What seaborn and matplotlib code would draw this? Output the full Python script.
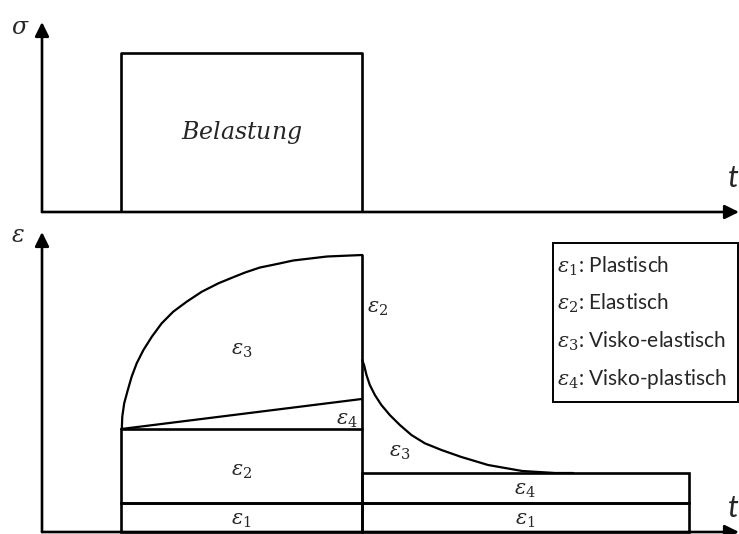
import matplotlib
matplotlib.use("Agg")
import matplotlib.pyplot as plt
from matplotlib.patches import Rectangle
import seaborn as sns

sns.set_style("white")
plt.rcParams['font.family'] = ['Lato', 'DejaVu Sans']
plt.rcParams['mathtext.fontset'] = 'dejavuserif'

# time markers (load on / off, end of recovery) and axis range
t_on, t_off, t_end, t_max = 3.3, 13.3, 26.9, 29.0
sigma_load, sigma_max = 15.9, 19.0
eps_max_axis = 30.0

# strain levels
eps_plastic = 2.9        # eps1
eps_elastic_top = 10.3   # eps1 + eps2
eps_vp_top = 13.3        # + eps4 at unloading
eps_peak = 27.7          # total strain at unloading
eps_after_elastic = 17.2 # after instantaneous elastic recovery
eps_residual = 5.9       # eps1 + eps4

# creep curve under load
creep_t = [3.32, 3.34, 3.42, 3.57, 3.73, 3.94, 4.22, 4.57, 4.98, 5.46, 6.02, 6.65,
           7.34, 8.03, 8.45, 9.07, 9.78, 10.45, 11.86, 13.32]
creep_eps = [10.3, 11.53, 12.87, 14.2, 15.53, 16.87, 18.2, 19.53, 20.87, 22.03, 23.03, 24.03,
             24.87, 25.55, 25.95, 26.45, 26.8, 27.15, 27.55, 27.7]

# recovery curve after unloading
recov_t = [13.32, 13.40, 13.50, 13.64, 13.85, 14.12, 14.47, 14.89, 15.37, 15.93, 16.62,
           17.45, 18.56, 19.98, 21.35, 22.10]
recov_eps = [17.2, 16.7, 15.7, 14.7, 13.7, 12.7, 11.7, 10.7, 9.7, 8.87, 8.2,
             7.5, 6.7, 6.1, 5.9, 5.9]

legend_items = ["$\\varepsilon_1$: Plastisch", "$\\varepsilon_2$: Elastisch",
                "$\\varepsilon_3$: Visko-elastisch", "$\\varepsilon_4$: Visko-plastisch"]

W, H = 739, 534
fig = plt.figure(figsize=(W / 100, H / 100), dpi=100)
ax1 = fig.add_axes([42 / W, (H - 212) / H, 697 / W, 190 / H])
ax2 = fig.add_axes([42 / W, 2 / H, 697 / W, 300 / H])

lw_box = 1.9
lw_curve = 1.6

ax1.set_xlim(0, t_max)
ax1.set_ylim(0, sigma_max)
ax2.set_xlim(0, t_max)
ax2.set_ylim(0, eps_max_axis)

arrow = dict(arrowstyle='-|>,head_length=0.85,head_width=0.42', color='black',
             lw=lw_box, shrinkA=0, shrinkB=0)
for ax in (ax1, ax2):
    ax.axis('off')
    ax.annotate('', xy=(1, 0), xytext=(0, 0), xycoords='axes fraction', arrowprops=arrow)
    ax.annotate('', xy=(0, 1), xytext=(0, 0), xycoords='axes fraction', arrowprops=arrow)

# ---- top: load ----
sns.lineplot(x=[t_on, t_on, t_off, t_off], y=[0, sigma_load, sigma_load, 0], ax=ax1,
             color='black', lw=lw_box, sort=False, estimator=None)
ax1.text((t_on + t_off) / 2, sigma_load / 2, "$Belastung$", fontsize=17,
         ha='center', va='center')
ax1.text(-0.9, 18.5, "$\\sigma$", fontsize=17, ha='center', va='center')
ax1.text(28.75, 3.4, "t", fontsize=22, style='italic', ha='center', va='center')

# ---- bottom: strain ----
for (x0, x1, y0, y1) in [(t_on, t_off, 0, eps_plastic),
                         (t_on, t_off, eps_plastic, eps_elastic_top),
                         (t_off, t_end, 0, eps_plastic),
                         (t_off, t_end, eps_plastic, eps_residual)]:
    ax2.add_patch(Rectangle((x0, y0), x1 - x0, y1 - y0, fill=False,
                            edgecolor='black', lw=lw_box, clip_on=False))

sns.lineplot(x=[t_off, t_off], y=[eps_elastic_top, eps_peak], ax=ax2,
             color='black', lw=lw_box, estimator=None)
sns.lineplot(x=[t_on, t_off], y=[eps_elastic_top, eps_vp_top], ax=ax2,
             color='black', lw=lw_curve, estimator=None)
sns.lineplot(x=creep_t, y=creep_eps, ax=ax2, color='black', lw=lw_curve,
             sort=False, estimator=None)
sns.lineplot(x=recov_t, y=recov_eps, ax=ax2, color='black', lw=lw_curve,
             sort=False, estimator=None)

fs_eps = 15
mid_load = (t_on + t_off) / 2
mid_rest = (t_off + t_end) / 2
labels = [
    (mid_load, 18.2, 3), (mid_load, 6.1, 2), (mid_load, 1.2, 1),
    (12.7, 11.2, 4), (13.95, 22.4, 2), (14.9, 8.0, 3),
    (mid_rest, 4.2, 4), (mid_rest, 1.2, 1),
]
for x, y, k in labels:
    ax2.text(x, y, f"$\\varepsilon_{k}$", fontsize=fs_eps, ha='center', va='center')

ax2.text(-1.0, 29.6, "$\\varepsilon$", fontsize=17, ha='center', va='center', clip_on=False)
ax2.text(28.75, 2.4, "t", fontsize=22, style='italic', ha='center', va='center')

# legend box
fig.patches.append(Rectangle((553 / W, (H - 402) / H), 185 / W, 159 / H, fill=False,
                             edgecolor='black', lw=1.4, transform=fig.transFigure))
for i, s in enumerate(legend_items):
    fig.text(557 / W, (H - 266 - 37.7 * i) / H, s, fontsize=15, ha='left', va='center')

fig.savefig("out.png", dpi=100)
